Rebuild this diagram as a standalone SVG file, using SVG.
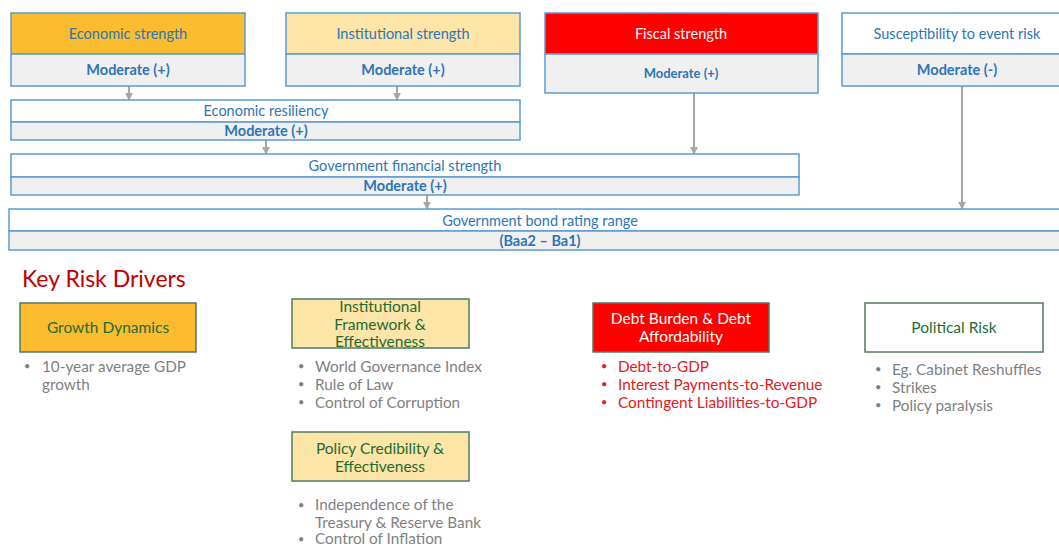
<svg xmlns="http://www.w3.org/2000/svg" width="1059" height="546" viewBox="0 0 1059 546">
<style>
.b{stroke:#5B9BD5;stroke-width:1.5}
.g{fill:#F0F0F0}
.h{font-family:Lato,"Open Sans",sans-serif;font-size:14.5px;fill:#2E75B6;text-anchor:middle}
.m{font-family:Lato,"Open Sans",sans-serif;font-size:14.5px;font-weight:bold;fill:#2E75B6;text-anchor:middle}
.k{stroke:#507C5C;stroke-width:1.5}
.t{font-family:Lato,"Open Sans",sans-serif;font-size:15.5px;fill:#1E6B35;text-anchor:middle}
.l{font-family:Lato,"Open Sans",sans-serif;font-size:15.3px;fill:#7F7F7F}
.r{font-family:Lato,"Open Sans",sans-serif;font-size:15.3px;fill:#E02020}
.d{font-size:11px}
.c{stroke:#A6A6A6;stroke-width:2;fill:none;marker-end:url(#a)}
</style>
<defs>
<marker id="a" viewBox="0 0 10 10" refX="9" refY="5" markerWidth="4" markerHeight="4" orient="auto" markerUnits="strokeWidth">
<path d="M0,0 L10,5 L0,10 z" fill="#A6A6A6"/>
</marker>
</defs>
<rect width="1059" height="546" fill="#fff"/>
<g id="connectors">
<line class="c" x1="129" y1="86" x2="129" y2="100"/>
<line class="c" x1="397" y1="86" x2="397" y2="100"/>
<line class="c" x1="266" y1="140" x2="266" y2="154"/>
<line class="c" x1="694" y1="93" x2="694" y2="154"/>
<line class="c" x1="427" y1="195" x2="427" y2="209"/>
<line class="c" x1="962" y1="86" x2="962" y2="209"/>
</g>
<g id="economic-strength">
<rect x="11" y="13" width="234" height="41" fill="#FBBC2F" class="b"/>
<rect x="11" y="54" width="234" height="32" class="g b"/>
<text class="h" x="128" y="39">Economic strength</text>
<text class="m" x="128" y="75">Moderate (+)</text>
</g>
<g id="institutional-strength">
<rect x="286" y="13" width="234" height="41" fill="#FDE4A7" class="b"/>
<rect x="286" y="54" width="234" height="32" class="g b"/>
<text class="h" x="403" y="39">Institutional strength</text>
<text class="m" x="403" y="75">Moderate (+)</text>
</g>
<g id="fiscal-strength">
<rect x="545" y="13" width="273" height="41" fill="#FF0000" class="b"/>
<rect x="545" y="54" width="273" height="39" class="g b"/>
<text class="h" x="681" y="39" style="fill:#fff">Fiscal strength</text>
<text class="m" x="681" y="78" style="font-size:13px">Moderate (+)</text>
</g>
<g id="susceptibility">
<rect x="842" y="13" width="230" height="41" fill="#fff" class="b"/>
<rect x="842" y="54" width="230" height="32" class="g b"/>
<text class="h" x="957" y="39">Susceptibility to event risk</text>
<text class="m" x="957" y="75">Moderate (-)</text>
</g>
<g id="economic-resiliency">
<rect x="11" y="100" width="509" height="22" fill="#fff" class="b"/>
<rect x="11" y="122" width="509" height="18" class="g b"/>
<text class="h" x="266" y="116">Economic resiliency</text>
<text class="m" x="266" y="136">Moderate (+)</text>
</g>
<g id="government-financial-strength">
<rect x="11" y="154" width="788" height="23" fill="#fff" class="b"/>
<rect x="11" y="177" width="788" height="18" class="g b"/>
<text class="h" x="405" y="170.5">Government financial strength</text>
<text class="m" x="405" y="191">Moderate (+)</text>
</g>
<g id="bond-rating">
<rect x="9" y="209" width="1062" height="22" fill="#fff" class="b"/>
<rect x="9" y="231" width="1062" height="19" class="g b"/>
<text class="h" x="540" y="225.5">Government bond rating range</text>
<text class="m" x="540" y="246">(Baa2 – Ba1)</text>
</g>
<text x="22" y="287" font-family="Lato, Open Sans, sans-serif" font-size="23" fill="#C00000">Key Risk Drivers</text>
<g id="growth-dynamics">
<rect x="20" y="303" width="176" height="49" fill="#FBBC2F" class="k"/>
<text class="t" x="108" y="333">Growth Dynamics</text>
<text class="l d" x="24" y="370">•</text>
<text class="l" x="42" y="371.5">10-year average GDP</text>
<text class="l" x="42" y="389.5">growth</text>
</g>
<g id="institutional-framework">
<rect x="292" y="299" width="177" height="49" fill="#FDE4A7" class="k"/>
<text class="t" x="380" y="312">Institutional</text>
<text class="t" x="380" y="329.5">Framework &amp;</text>
<text class="t" x="380" y="347">Effectiveness</text>
<text class="l d" x="298" y="370">•</text>
<text class="l" x="315" y="371.5">World Governance Index</text>
<text class="l d" x="298" y="388">•</text>
<text class="l" x="315" y="389.5">Rule of Law</text>
<text class="l d" x="298" y="406">•</text>
<text class="l" x="315" y="407.5">Control of Corruption</text>
</g>
<g id="policy-credibility">
<rect x="292" y="432" width="177" height="49" fill="#FDE4A7" class="k"/>
<text class="t" x="380" y="454">Policy Credibility &amp;</text>
<text class="t" x="380" y="471.5">Effectiveness</text>
<text class="l d" x="298" y="508.5">•</text>
<text class="l" x="315" y="510">Independence of the</text>
<text class="l" x="315" y="527.5">Treasury &amp; Reserve Bank</text>
<text class="l d" x="298" y="542.5">•</text>
<text class="l" x="315" y="544">Control of Inflation</text>
</g>
<g id="debt-burden">
<rect x="593" y="303" width="176" height="49" fill="#FF0000" class="k"/>
<text class="t" x="681" y="324" style="fill:#fff">Debt Burden &amp; Debt</text>
<text class="t" x="681" y="342" style="fill:#fff">Affordability</text>
<text class="r d" x="601" y="370">•</text>
<text class="r" x="618" y="371.5">Debt-to-GDP</text>
<text class="r d" x="601" y="388">•</text>
<text class="r" x="618" y="389.5">Interest Payments-to-Revenue</text>
<text class="r d" x="601" y="406">•</text>
<text class="r" x="618" y="407.5">Contingent Liabilities-to-GDP</text>
</g>
<g id="political-risk">
<rect x="865" y="303" width="178" height="49" fill="#fff" class="k"/>
<text class="t" x="954" y="333">Political Risk</text>
<text class="l d" x="875" y="373">•</text>
<text class="l" x="892" y="374.5">Eg. Cabinet Reshuffles</text>
<text class="l d" x="875" y="391">•</text>
<text class="l" x="892" y="392.5">Strikes</text>
<text class="l d" x="875" y="409">•</text>
<text class="l" x="892" y="410.5">Policy paralysis</text>
</g>
</svg>
